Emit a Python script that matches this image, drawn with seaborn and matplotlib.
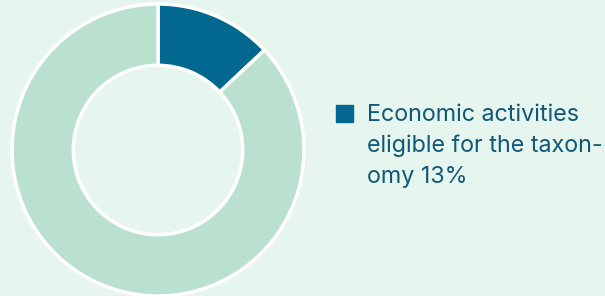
import matplotlib.pyplot as plt
from matplotlib.patches import Rectangle
import seaborn as sns

# data
labels = ['Economic activities\neligible for the taxon-\nomy 13%', 'Other']
shares = [13, 87]
colors = ['#02688F', '#BAE1D0']

bg = '#E6F5EE'
text_color = '#0F5878'

sns.set_theme(style='white')
plt.rcParams['font.family'] = ['Inter', 'DejaVu Sans']

W, H = 605, 296
fig = plt.figure(figsize=(W / 100, H / 100), dpi=100, facecolor=bg)

# donut: centre (158,150) px, outer radius 146 px
cx, cy, r = 158, 150, 146
ax = fig.add_axes([(cx - r) / W, (H - cy - r) / H, 2 * r / W, 2 * r / H])
ax.set_facecolor(bg)
ax.pie(shares, colors=colors, startangle=90, counterclock=False, radius=1,
       wedgeprops=dict(width=0.42, edgecolor='white', linewidth=2.5))
ax.set_xlim(-1, 1)
ax.set_ylim(-1, 1)
ax.set_aspect('equal')
ax.axis('off')

# legend (only the eligible share)
fig.add_artist(Rectangle((336 / W, (H - 122) / H), 17 / W, 17 / H,
                         transform=fig.transFigure, color=colors[0]))
fig.text(367 / W, (H - 104) / H, labels[0], color=text_color, fontsize=16.8,
         va='top', ha='left', linespacing=1.5)

fig.savefig('out.png', dpi=100, facecolor=bg)
